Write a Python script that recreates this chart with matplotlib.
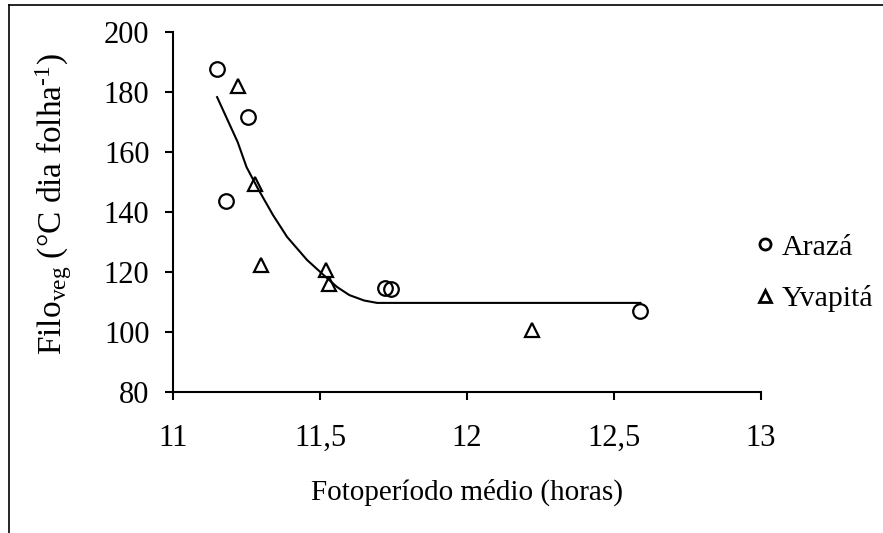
import matplotlib.pyplot as plt
from matplotlib.lines import Line2D

plt.rcParams["font.family"] = ["Liberation Serif", "DejaVu Serif"]
plt.rcParams["mathtext.fontset"] = "custom"
plt.rcParams["mathtext.rm"] = "Liberation Serif"
plt.rcParams["mathtext.it"] = "Liberation Serif"

# Arazá observations (photoperiod in hours, phyllochron in degree-days per leaf)
araza_x = [11.15, 11.18, 11.255, 11.72, 11.74, 12.59]
araza_y = [187.7, 143.7, 171.7, 114.7, 114.3, 107.0]

# Yvapitá observations
yvapita_x = [11.22, 11.28, 11.30, 11.52, 11.53, 12.22]
yvapita_y = [182.0, 149.3, 122.3, 120.7, 116.0, 100.7]

# fitted segmented curve
fit_x = [11.15, 11.22, 11.25, 11.286, 11.34, 11.388, 11.456, 11.52, 11.558, 11.60, 11.65, 11.694, 12.0, 12.3, 12.59]
fit_y = [178.3, 163.3, 155.0, 148.3, 139.0, 131.7, 124.0, 118.3, 115.0, 112.3, 110.5, 109.7, 109.7, 109.7, 109.7]

x_ticks = [11, 11.5, 12, 12.5, 13]
x_tick_labels = ["11", "11,5", "12", "12,5", "13"]
y_ticks = [80, 100, 120, 140, 160, 180, 200]

fig = plt.figure(figsize=(8.83, 5.33), dpi=100)
ax = fig.add_axes([173 / 883, 1 - 392 / 533, (761 - 173) / 883, (392 - 32) / 533])

ax.plot(fit_x, fit_y, color="black", lw=1.5, zorder=2)
ax.plot(araza_x, araza_y, ls="none", marker="o", ms=10.5, mfc="none",
        mec="black", mew=1.6, label="Arazá", zorder=3)
ax.plot(yvapita_x, yvapita_y, ls="none", marker="^", ms=10.5, mfc="none",
        mec="black", mew=1.6, label="Yvapitá", zorder=3)

ax.set_xlim(11, 13)
ax.set_ylim(80, 200)
ax.set_xticks(x_ticks)
ax.set_xticklabels(x_tick_labels)
ax.set_yticks(y_ticks)
ax.tick_params(axis="both", direction="out", length=6, width=1.5,
               labelsize=22, colors="black")
ax.tick_params(axis="x", pad=17)
ax.tick_params(axis="y", pad=11)
for side in ("top", "right"):
    ax.spines[side].set_visible(False)
for side in ("left", "bottom"):
    ax.spines[side].set_linewidth(1.5)

ax.set_xlabel("Fotoperíodo médio (horas)", fontsize=21)
ax.xaxis.set_label_coords(0.5, -0.24)
ax.set_ylabel(r"Filo$_{\mathrm{veg}}$ (°C dia folha$^{\text{-1}}$)", fontsize=24)
ax.yaxis.set_label_coords(-0.168, 0.522)

leg_handles = [
    Line2D([], [], ls="none", marker="o", ms=8, mfc="none", mec="black", mew=2),
    Line2D([], [], ls="none", marker="^", ms=8, mfc="none", mec="black", mew=2),
]
fig.legend(leg_handles, ["Arazá", "Yvapitá"], loc="upper left",
           bbox_to_anchor=(741 / 883, 1 - 222 / 533), frameon=False,
           fontsize=21.5, handlelength=0.8, handletextpad=0.15, labelspacing=0.82,
           borderaxespad=0)

# outer frame lines
fig.add_artist(Line2D([9 / 883, 1], [1 - 5 / 533, 1 - 5 / 533], color="black", lw=1.2))
fig.add_artist(Line2D([9 / 883, 9 / 883], [0, 1 - 5 / 533], color="black", lw=1.2))

fig.savefig("out.png", dpi=100)
